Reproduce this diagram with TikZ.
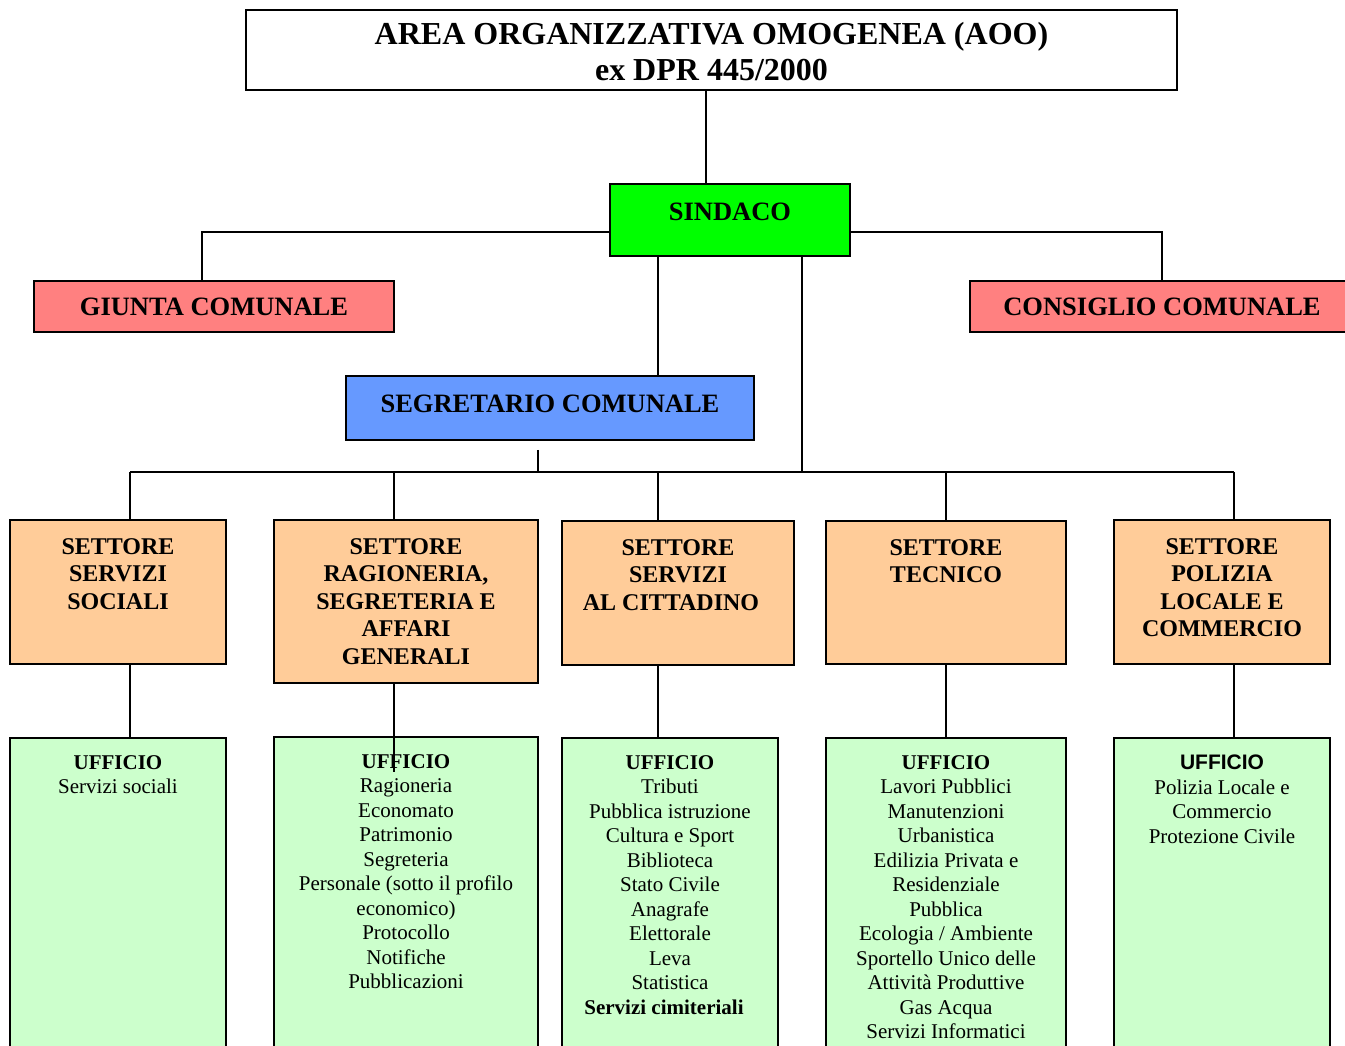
\documentclass[tikz,border=0pt]{standalone}
\usepackage{fontspec}
\setmainfont{Liberation Serif}
\newfontfamily\arialfont{Liberation Sans}
\usetikzlibrary{positioning}
\definecolor{sindacogreen}{HTML}{00FF00}
\definecolor{organred}{HTML}{FF8080}
\definecolor{segrblue}{HTML}{6699FF}
\definecolor{settoreorange}{HTML}{FFCC99}
\definecolor{ufficiogreen}{HTML}{CCFFCC}

\begin{document}
\begin{tikzpicture}[
  x=1pt, y=-1pt,
  box/.style={rectangle, draw=black, line width=1.8pt, inner sep=0pt},
  settore/.style={box, fill=settoreorange},
  ufficio/.style={box, fill=ufficiogreen, minimum height=362pt},
  organo/.style={box, fill=organred, minimum height=51pt,
                 font=\fontsize{26.5}{30}\selectfont\bfseries},
  head/.style={inner sep=0pt, align=center, font=\fontsize{26.5}{30}\selectfont\bfseries},
  settext/.style={inner sep=0pt, align=center, font=\fontsize{24}{27.5}\selectfont\bfseries},
  uftext/.style={inner sep=0pt, align=center, font=\fontsize{21}{24.5}\selectfont},
  conn/.style={line width=1.5pt},
]
  \useasboundingbox (0,0) rectangle (1345,1045);
  \clip (0,0) rectangle (1345,1045);

  % vertici
  \node[box, fill=white, minimum width=931pt, minimum height=80pt] (aoo) at (711.5,50) {};
  \node[head, font=\fontsize{32}{36}\selectfont\bfseries, below=13pt of aoo.north] (aoo-t)
    {AREA ORGANIZZATIVA OMOGENEA (AOO)\\ex DPR 445/2000};
  \node[box, fill=sindacogreen, minimum width=240pt, minimum height=72pt] (sindaco) at (730,220) {};
  \node[head, below=20pt of sindaco.north] (sindaco-t) {SINDACO};
  \node[organo, minimum width=360pt] (giunta) at (214,306.5) {GIUNTA COMUNALE};
  \node[organo, minimum width=384pt] (consiglio) at (1162,306.5) {CONSIGLIO COMUNALE};
  \node[box, fill=segrblue, minimum width=408pt, minimum height=64pt] (segr) at (550,408) {};
  \node[head, below=20pt of segr.north] (segr-t) {SEGRETARIO COMUNALE};

  % settori
  \node[settore, minimum width=216pt, minimum height=144pt] (s1) at (118,592) {};
  \node[settore, minimum width=264pt, minimum height=163pt] (s2) at (406,601.5) {};
  \node[settore, minimum width=232pt, minimum height=144pt] (s3) at (678,593) {};
  \node[settore, minimum width=240pt, minimum height=143pt] (s4) at (946,592.5) {};
  \node[settore, minimum width=216pt, minimum height=144pt] (s5) at (1222,592) {};
  \node[settext, below=19pt of s1.north] (s1-t) {SETTORE\\SERVIZI\\SOCIALI};
  \node[settext, below=19pt of s2.north] (s2-t) {SETTORE\\RAGIONERIA,\\SEGRETERIA E\\AFFARI\\GENERALI};
  \node[settext, below=19pt of s3.north] (s3-t) {SETTORE\\SERVIZI\\AL CITTADINO\hspace*{14pt}};
  \node[settext, below=19pt of s4.north] (s4-t) {SETTORE\\TECNICO};
  \node[settext, below=19pt of s5.north] (s5-t) {SETTORE\\POLIZIA\\LOCALE E\\COMMERCIO};

  % uffici
  \node[ufficio, minimum width=216pt] (u1) at (118,919) {};
  \node[ufficio, minimum width=264pt] (u2) at (406,918) {};
  \node[ufficio, minimum width=216pt] (u3) at (670,919) {};
  \node[ufficio, minimum width=240pt] (u4) at (946,919) {};
  \node[ufficio, minimum width=216pt] (u5) at (1222,919) {};
  \node[uftext, below=18pt of u1.north] (u1-t) {\textbf{UFFICIO}\\Servizi sociali};
  \node[uftext, below=18pt of u2.north] (u2-t) {\textbf{UFFICIO}\\Ragioneria\\Economato\\Patrimonio\\Segreteria\\
    Personale (sotto il profilo\\economico)\\Protocollo\\Notifiche\\Pubblicazioni};
  \node[uftext, below=18pt of u3.north] (u3-t) {\textbf{UFFICIO}\\Tributi\\Pubblica istruzione\\Cultura e Sport\\
    Biblioteca\\Stato Civile\\Anagrafe\\Elettorale\\Leva\\Statistica\\\textbf{Servizi cimiteriali}\hspace*{12pt}};
  \node[uftext, below=18pt of u4.north] (u4-t) {\textbf{UFFICIO}\\Lavori Pubblici\\Manutenzioni\\Urbanistica\\
    Edilizia Privata e\\Residenziale\\Pubblica\\Ecologia / Ambiente\\Sportello Unico delle\\
    Attività Produttive\\Gas Acqua\\Servizi Informatici};
  \node[uftext, below=18pt of u5.north] (u5-t) {{\arialfont\bfseries UFFICIO}\\Polizia Locale e\\Commercio\\Protezione Civile};

  % collegamenti
  \coordinate (busL) at (130,472);
  \coordinate (busR) at (1234,472);
  \draw[conn] ([xshift=-24pt]sindaco.north) -- ([xshift=-24pt]sindaco.north |- aoo.south);
  \draw[conn] ([yshift=-12pt]sindaco.west) -| ([xshift=-12pt]giunta.north);
  \draw[conn] ([yshift=-12pt]sindaco.east) -| (consiglio.north);
  \draw[conn] ([xshift=-72pt]sindaco.south) -- ([xshift=-72pt]sindaco.south |- segr.north);
  \draw[conn] ([xshift=72pt]sindaco.south) -- ([xshift=72pt]sindaco.south |- busL);
  \draw[conn] ([xshift=-12pt,yshift=-9pt]segr.south) -- ([xshift=-12pt]segr.south |- busL);
  \draw[conn] (busL) -- (busR);
  \foreach \i/\dx in {1/12, 2/-12, 3/-20, 4/0, 5/12}{
    \draw[conn] ([xshift=\dx pt]s\i.north) -- ([xshift=\dx pt]s\i.north |- busL);
    \draw[conn] ([xshift=\dx pt]s\i.south) -- ([xshift=\dx pt]s\i.south |- u\i.north);
  }
  \draw[conn] ([xshift=-12pt]u2.north) -- ([xshift=-12pt,yshift=-36pt]u2.north);
\end{tikzpicture}
\end{document}
